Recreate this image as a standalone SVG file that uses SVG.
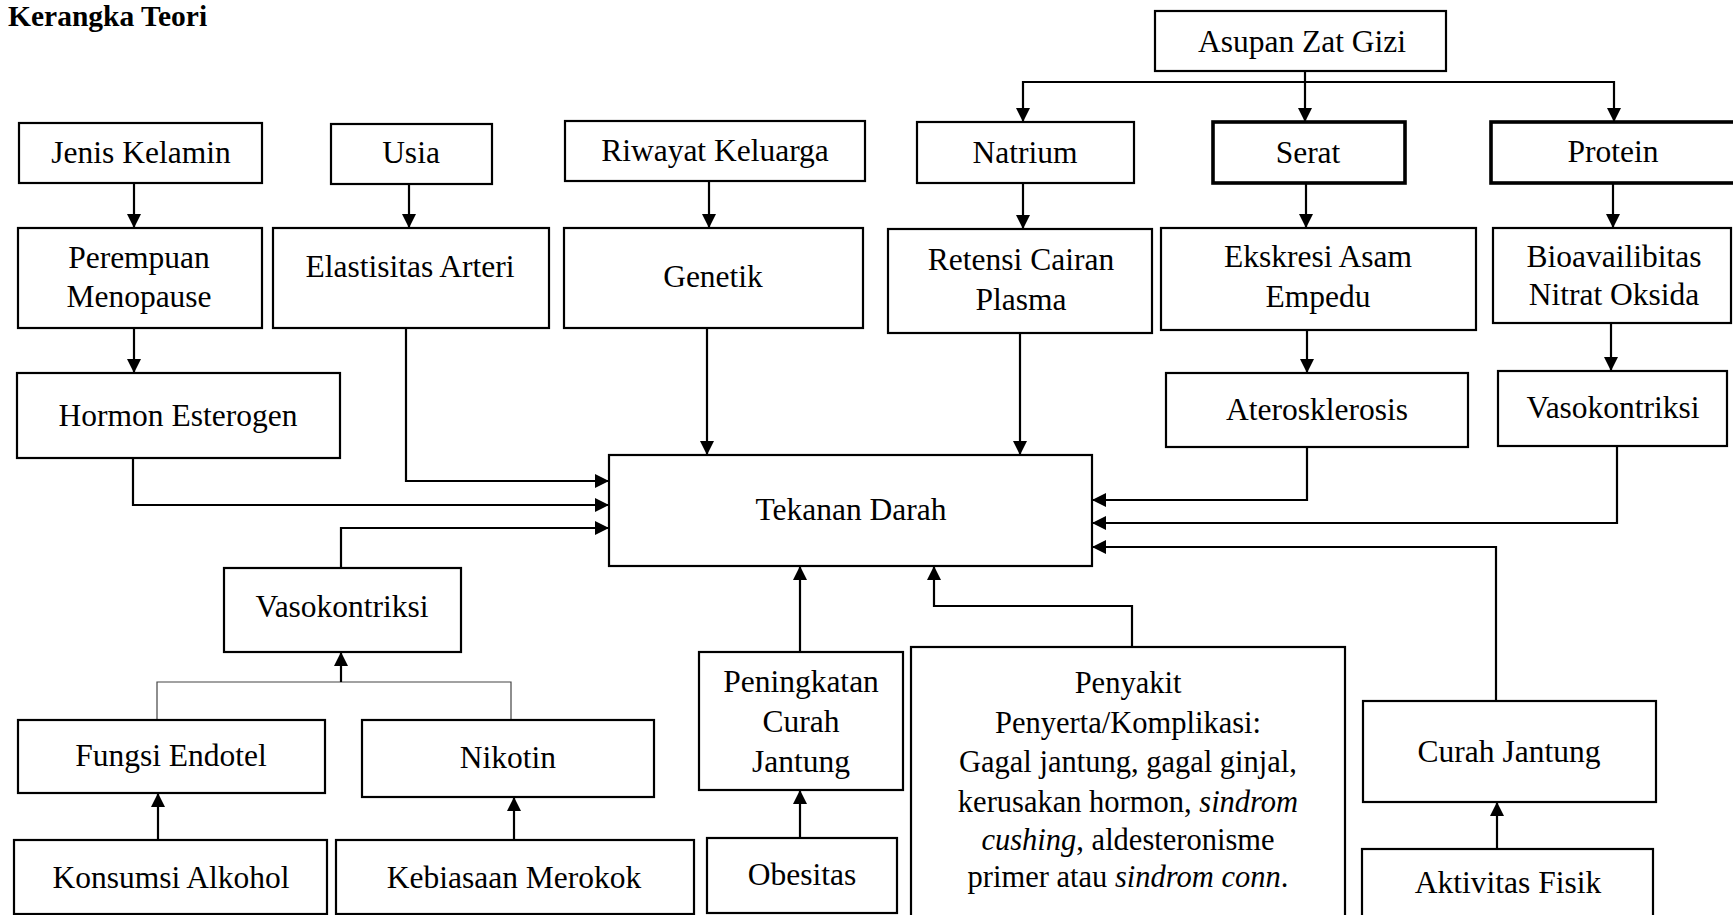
<svg xmlns="http://www.w3.org/2000/svg" width="1733" height="915" viewBox="0 0 1733 915">
<defs>
<marker id="ah" markerUnits="userSpaceOnUse" markerWidth="16" markerHeight="16" refX="14" refY="7" orient="auto">
<path d="M0,0 L14,7 L0,14 Z" fill="#000"/>
</marker>
<style>
.b{fill:#fff;stroke:#000;stroke-width:2.2}
.bt{fill:#fff;stroke:#000;stroke-width:3.6}
.t{font-family:"Liberation Serif","Times New Roman",serif;font-size:31.5px;fill:#000;text-anchor:middle}
.p{font-size:30.5px}
.c{fill:none;stroke:#000;stroke-width:2.2}
.a{fill:none;stroke:#000;stroke-width:2.2;marker-end:url(#ah)}
.thin{fill:none;stroke:#444;stroke-width:1.2}
.i{font-style:italic}
</style>
</defs>
<rect width="1733" height="915" fill="#fff"/>
<text x="8" y="26" font-family="Liberation Serif,'Times New Roman',serif" font-size="29.5" font-weight="bold">Kerangka Teori</text>

<g id="connectors">
<line class="a" x1="134" y1="183" x2="134" y2="228"/>
<line class="a" x1="409" y1="184" x2="409" y2="228"/>
<line class="a" x1="709" y1="181" x2="709" y2="228"/>
<line class="a" x1="1023" y1="183" x2="1023" y2="229"/>
<line class="a" x1="1305" y1="71" x2="1305" y2="122"/>
<polyline class="c" points="1023,82 1614,82"/>
<line class="a" x1="1023" y1="81" x2="1023" y2="122"/>
<line class="a" x1="1614" y1="81" x2="1614" y2="122"/>
<line class="a" x1="1306" y1="183" x2="1306" y2="228"/>
<line class="a" x1="1613" y1="183" x2="1613" y2="228"/>
<line class="a" x1="134" y1="328" x2="134" y2="373"/>
<path class="a" d="M406,328 V481 H609"/>
<path class="a" d="M133,458 V505 H609"/>
<path class="a" d="M341,568 V528 H609"/>
<line class="a" x1="707" y1="328" x2="707" y2="455"/>
<line class="a" x1="1020" y1="333" x2="1020" y2="455"/>
<line class="a" x1="1307" y1="330" x2="1307" y2="373"/>
<line class="a" x1="1611" y1="323" x2="1611" y2="371"/>
<path class="a" d="M1307,447 V500 H1092"/>
<path class="a" d="M1617,446 V523 H1092"/>
<path class="a" d="M1496,701 V547 H1092"/>
<line class="a" x1="800" y1="652" x2="800" y2="566"/>
<path class="a" d="M1132,647 V606 H934 V566"/>
<line class="a" x1="800" y1="838" x2="800" y2="790"/>
<line class="a" x1="1497" y1="849" x2="1497" y2="802"/>
<path class="thin" d="M157,720 V682 H511 V720"/>
<line class="a" x1="341" y1="682" x2="341" y2="652"/>
<line class="a" x1="158" y1="840" x2="158" y2="793"/>
<line class="a" x1="514" y1="840" x2="514" y2="797"/>
</g>

<g id="asupan"><rect class="b" x="1155" y="11" width="291" height="60"/><text class="t" x="1302" y="52">Asupan Zat Gizi</text></g>
<g id="jenis-kelamin"><rect class="b" x="19" y="123" width="243" height="60"/><text class="t" x="141" y="163">Jenis Kelamin</text></g>
<g id="usia"><rect class="b" x="331" y="124" width="161" height="60"/><text class="t" x="411" y="163">Usia</text></g>
<g id="riwayat"><rect class="b" x="565" y="121" width="300" height="60"/><text class="t" x="715" y="161">Riwayat Keluarga</text></g>
<g id="natrium"><rect class="b" x="917" y="122" width="217" height="61"/><text class="t" x="1025" y="163">Natrium</text></g>
<g id="serat"><rect class="bt" x="1213" y="122" width="192" height="61"/><text class="t" x="1308" y="163">Serat</text></g>
<g id="protein"><rect class="bt" x="1491" y="122" width="245" height="61"/><text class="t" x="1613" y="162">Protein</text></g>

<g id="perempuan"><rect class="b" x="18" y="228" width="244" height="100"/><text class="t" x="139" y="268">Perempuan</text><text class="t" x="139" y="307">Menopause</text></g>
<g id="elastisitas"><rect class="b" x="273" y="228" width="276" height="100"/><text class="t" x="410" y="277">Elastisitas Arteri</text></g>
<g id="genetik"><rect class="b" x="564" y="228" width="299" height="100"/><text class="t" x="713" y="287">Genetik</text></g>
<g id="retensi"><rect class="b" x="888" y="229" width="264" height="104"/><text class="t" x="1021" y="270">Retensi Cairan</text><text class="t" x="1021" y="310">Plasma</text></g>
<g id="ekskresi"><rect class="b" x="1161" y="228" width="315" height="102"/><text class="t" x="1318" y="267">Ekskresi Asam</text><text class="t" x="1318" y="307">Empedu</text></g>
<g id="bioavailibitas"><rect class="b" x="1493" y="228" width="238" height="95"/><text class="t" x="1614" y="267">Bioavailibitas</text><text class="t" x="1614" y="305">Nitrat Oksida</text></g>

<g id="hormon"><rect class="b" x="17" y="373" width="323" height="85"/><text class="t" x="178" y="426">Hormon Esterogen</text></g>
<g id="aterosklerosis"><rect class="b" x="1166" y="373" width="302" height="74"/><text class="t" x="1317" y="420">Aterosklerosis</text></g>
<g id="vasokontriksi-kanan"><rect class="b" x="1498" y="371" width="229" height="75"/><text class="t" x="1613" y="418">Vasokontriksi</text></g>

<g id="tekanan-darah"><rect class="b" x="609" y="455" width="483" height="111"/><text class="t" x="851" y="520">Tekanan Darah</text></g>

<g id="vasokontriksi-kiri"><rect class="b" x="224" y="568" width="237" height="84"/><text class="t" x="342" y="617">Vasokontriksi</text></g>
<g id="fungsi-endotel"><rect class="b" x="18" y="720" width="307" height="73"/><text class="t" x="171" y="766">Fungsi Endotel</text></g>
<g id="nikotin"><rect class="b" x="362" y="720" width="292" height="77"/><text class="t" x="508" y="768">Nikotin</text></g>
<g id="peningkatan"><rect class="b" x="699" y="652" width="204" height="138"/><text class="t" x="801" y="692">Peningkatan</text><text class="t" x="801" y="732">Curah</text><text class="t" x="801" y="772">Jantung</text></g>
<g id="penyakit"><rect class="b" x="911" y="647" width="434" height="290"/>
<text class="t p" x="1128" y="693">Penyakit</text>
<text class="t p" x="1128" y="733">Penyerta/Komplikasi:</text>
<text class="t p" x="1128" y="772">Gagal jantung, gagal ginjal,</text>
<text class="t p" x="1128" y="812">kerusakan hormon, <tspan class="i">sindrom</tspan></text>
<text class="t p" x="1128" y="850"><tspan class="i">cushing</tspan>, aldesteronisme</text>
<text class="t p" x="1128" y="887">primer atau <tspan class="i">sindrom conn</tspan>.</text>
</g>
<g id="curah-jantung"><rect class="b" x="1363" y="701" width="293" height="101"/><text class="t" x="1509" y="762">Curah Jantung</text></g>

<g id="konsumsi-alkohol"><rect class="b" x="14" y="840" width="313" height="74"/><text class="t" x="171" y="888">Konsumsi Alkohol</text></g>
<g id="kebiasaan-merokok"><rect class="b" x="336" y="840" width="358" height="74"/><text class="t" x="514" y="888">Kebiasaan Merokok</text></g>
<g id="obesitas"><rect class="b" x="707" y="838" width="190" height="75"/><text class="t" x="802" y="885">Obesitas</text></g>
<g id="aktivitas-fisik"><rect class="b" x="1362" y="849" width="291" height="90"/><text class="t" x="1508" y="893">Aktivitas Fisik</text></g>
</svg>
